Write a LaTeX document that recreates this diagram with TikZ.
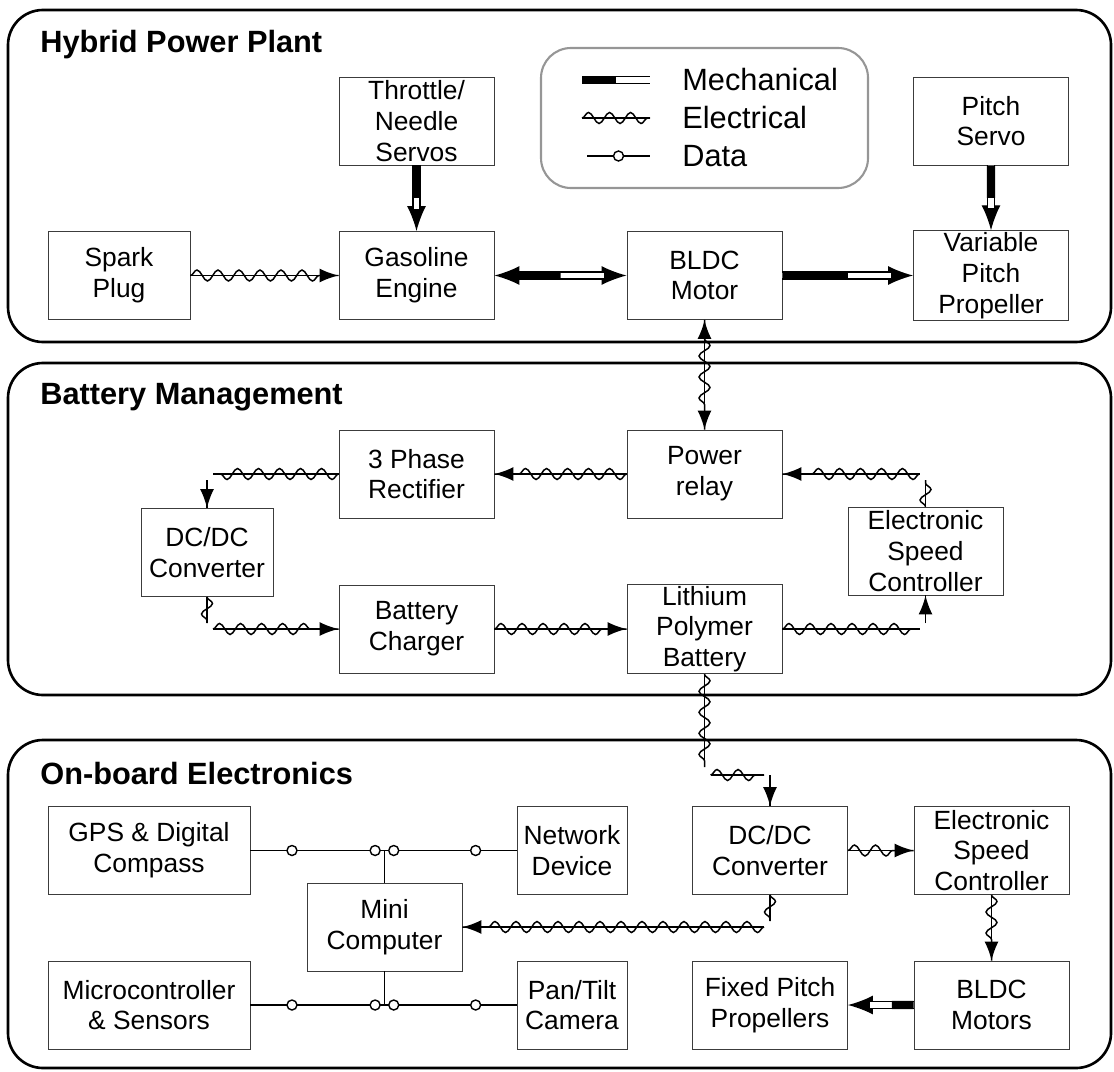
\documentclass[tikz,border=0pt]{standalone}
\usepackage{fontspec}
\setmainfont{Liberation Sans}
\usetikzlibrary{arrows.meta,positioning,calc,decorations.pathmorphing}
\definecolor{framegray}{RGB}{150,150,150}
\definecolor{boxgray}{RGB}{60,60,60}

\begin{document}
\begin{tikzpicture}[x=0.02cm, y=-0.02cm,
    blk/.style={draw=boxgray, line width=0.5pt, minimum width=3.1cm, minimum height=1.76cm,
        inner sep=1pt, align=center, font=\fontsize{15}{17.5}\selectfont},
    panel/.style={draw, line width=1.5pt, rounded corners=0.7cm},
    ptitle/.style={anchor=west, inner sep=0pt, font=\fontsize{17.5}{20}\selectfont\bfseries},
    legtext/.style={anchor=west, inner sep=0pt, font=\fontsize{17.5}{20}\selectfont},
    wave/.style={decorate, draw, arrows=-, line width=0.85pt,
        decoration={snake, amplitude=0.11cm, segment length=0.42cm, post length=#1}},
    wave/.default=0pt,
    elecline/.style={line width=1.1pt, postaction={wave}},
    elec/.style={line width=1.1pt, -{Latex[length=0.38cm,width=0.28cm]}, postaction={wave=0.38cm}},
    elecboth/.style={line width=1.1pt, {Latex[length=0.38cm,width=0.28cm]}-{Latex[length=0.38cm,width=0.28cm]},
        postaction={wave=0.38cm, decoration={pre length=0.38cm}}},
    mechw/.style={line width=0.8pt, double=white, double distance=0.11cm},
    mechb/.style={line width=0.166cm},
    mech/.style={line width=0.8pt, -{Latex[length=0.5cm,width=0.38cm]},
        postaction={draw, arrows=-, mechw, shorten >=0.45cm}},
    mechboth/.style={line width=0.8pt, {Latex[length=0.5cm,width=0.38cm]}-{Latex[length=0.5cm,width=0.38cm]},
        postaction={draw, arrows=-, mechw, shorten >=0.45cm, shorten <=0.45cm}},
    ldata/.style={line width=1pt},
    dot/.style={circle, draw, fill=white, line width=0.8pt, inner sep=0pt, minimum size=0.2cm}]

    \useasboundingbox (0,0) rectangle (1114,1071);

    % panels
    \draw[panel] (8,10) rectangle (1111,342);
    \draw[panel] (8,363) rectangle (1111,695);
    \draw[panel] (8,740) rectangle (1111,1068);
    \node[ptitle] (t1) at (40,45) {Hybrid Power Plant};
    \node[ptitle] (t2) at (40,397) {Battery Management};
    \node[ptitle] (t3) at (40,773) {On-board Electronics};

    % legend
    \draw[draw=framegray, line width=1.2pt, rounded corners=0.6cm] (541,48) rectangle (868,188);
    \coordinate (m1) at (582,80);  \coordinate (m2) at (650,80);
    \coordinate (e1) at (582,118); \coordinate (e2) at (650,118);
    \coordinate (d1) at (587,156); \coordinate (d2) at (650,156);
    \draw[mechw] (m1) -- (m2);
    \draw[mechb] (m1) -- ($(m1)!.5!(m2)$);
    \draw[elecline] (e1) -- (e2);
    \draw[ldata] (d1) -- node[dot]{} (d2);
    \node[legtext] (lm) at (682,80) {Mechanical};
    \node[legtext] (le) at (682,118) {Electrical};
    \node[legtext] (ld) at (682,156) {Data};

    % hybrid power plant
    \node[blk, minimum width=2.84cm] (spark) at (119,275.5) {Spark\\Plug};
    \node[blk] (throttle) at (416.5,121) {Throttle/\\Needle\\Servos};
    \node[blk] (engine) at (416.5,275.5) {Gasoline\\Engine};
    \node[blk] (bldc) at (704.5,275.5) {BLDC\\Motor};
    \node[blk] (pservo) at (991,121) {Pitch\\Servo};
    \node[blk] (prop) at (991,275.5) {Variable\\Pitch\\Propeller};

    \draw[elec] (spark) -- (engine);
    \draw[mech] (throttle) -- (engine);
    \draw[mechb] (throttle.south) -- ($(throttle.south)!.5!(engine.north)$);
    \draw[mechboth] (engine) -- (bldc);
    \draw[mechb, shorten <=0.45cm] (engine.east) -- ($(engine.east)!.5!(bldc.west)$);
    \draw[mech] (bldc) -- (prop);
    \draw[mechb] (bldc.east) -- ($(bldc.east)!.5!(prop.west)$);
    \draw[mech] (pservo) -- (prop);
    \draw[mechb] (pservo.south) -- ($(pservo.south)!.5!(prop.north)$);

    % battery management
    \node[blk] (rect) at (416.5,474) {3 Phase\\Rectifier};
    \node[blk] (relay) at (704.5,474) {Power\\relay};
    \node[blk, minimum width=2.64cm] (dcdcA) at (207,552.5) {DC/DC\\Converter};
    \node[blk] (charger) at (416.5,629) {Battery\\Charger};
    \node[blk] (lipo) at (704.5,629) {Lithium\\Polymer\\Battery};
    \node[blk] (escA) at (925.5,551) {Electronic\\Speed\\Controller};

    \coordinate (c1) at (dcdcA.north |- rect.west);
    \coordinate (c2) at (dcdcA.south |- charger.west);
    \coordinate (c3) at (escA.south |- lipo.east);
    \coordinate (c4) at (escA.north |- relay.east);

    \draw[elecboth] (bldc) -- (relay);
    \draw[elec] (relay) -- (rect);
    \draw[elecline] (rect.west) -- ($(c1)+(6,0)$);
    \draw[elec] ($(c1)+(0,6)$) -- (dcdcA.north);
    \draw[elecline] (dcdcA.south) -- ($(c2)+(0,-6)$);
    \draw[elec] ($(c2)+(6,0)$) -- (charger.west);
    \draw[elec] (charger) -- (lipo);
    \draw[elecline] (lipo.east) -- ($(c3)+(-6,0)$);
    \draw[elec] ($(c3)+(0,-6)$) -- (escA.south);
    \draw[elecline] (escA.north) -- ($(c4)+(0,6)$);
    \draw[elec] ($(c4)+(-6,0)$) -- (relay.east);

    % on-board electronics
    \node[blk, minimum width=4.04cm] (gps) at (149,850.5) {GPS \& Digital\\Compass};
    \node[blk, minimum width=2.2cm] (net) at (572,850.5) {Network\\Device};
    \node[blk] (dcdcB) at (770,850.5) {DC/DC\\Converter};
    \node[blk] (escB) at (991.5,850.5) {Electronic\\Speed\\Controller};
    \node[blk] (mini) at (384.5,927) {Mini\\Computer};
    \node[blk, minimum width=4.04cm] (micro) at (149,1005) {Microcontroller\\\& Sensors};
    \node[blk, minimum width=2.2cm] (pan) at (572,1005) {Pan/Tilt\\Camera};
    \node[blk] (fixed) at (770,1005) {Fixed Pitch\\Propellers};
    \node[blk] (bldcB) at (991.5,1005) {BLDC\\Motors};

    \coordinate (c5) at (lipo.south |- 0,775);
    \coordinate (c6) at (dcdcB.north |- c5);
    \coordinate (c7) at (dcdcB.south |- mini.east);

    \draw[elecline] (lipo.south) -- ($(c5)+(0,-8)$);
    \draw[elecline] ($(c5)+(6,0)$) -- ($(c6)+(-6,0)$);
    \draw[elec] (c6) -- (dcdcB.north);
    \draw[elec] (dcdcB) -- (escB);
    \draw[elecline] (dcdcB.south) -- ($(c7)+(0,-6)$);
    \draw[elec] ($(c7)+(-6,0)$) -- (mini.east);
    \draw[elec] (escB) -- (bldcB);
    \draw[mech] (bldcB) -- (fixed);
    \draw[mechb] (bldcB.west) -- ($(bldcB.west)!.33!(fixed.east)$);

    \coordinate (jt) at (mini.north |- gps.east);
    \coordinate (jb) at (mini.south |- micro.east);
    \draw[ldata] (gps.east) -- node[dot, pos=.31]{} node[dot, pos=.93]{} (jt) -- (mini.north);
    \draw[ldata] (net.west) -- node[dot, pos=.31]{} node[dot, pos=.93]{} (jt);
    \draw[ldata] (micro.east) -- node[dot, pos=.31]{} node[dot, pos=.93]{} (jb) -- (mini.south);
    \draw[ldata] (pan.west) -- node[dot, pos=.31]{} node[dot, pos=.93]{} (jb);
\end{tikzpicture}
\end{document}
